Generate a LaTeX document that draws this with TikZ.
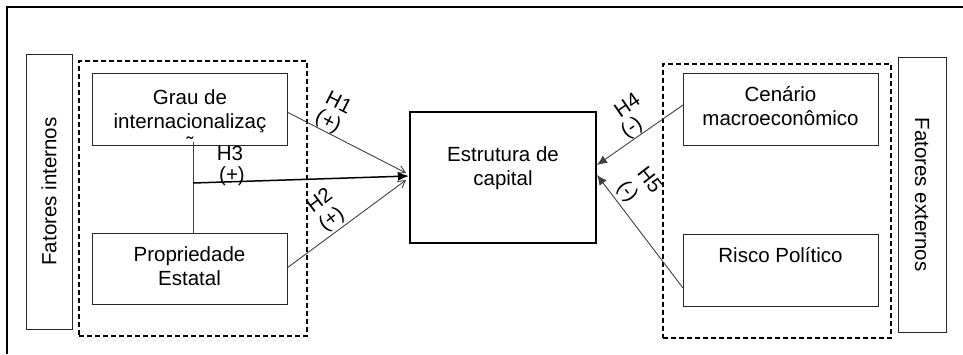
\documentclass[tikz,border=0pt]{standalone}
\usepackage{fontspec}
\setmainfont{Liberation Sans}
\usetikzlibrary{arrows.meta}
\tikzset{
  box/.style={draw=black!85, line width=0.9pt, minimum width=#1, inner sep=0pt},
  dbox/.style={draw=black, line width=1.3pt, dash pattern=on 5pt off 3pt},
  txt/.style={font=\fontsize{20.5}{23.5}\selectfont, align=center, inner sep=0pt},
  conn/.style={draw=black!75, line width=0.9pt},
  hlab/.style={font=\fontsize{20.5}{23.5}\selectfont, inner sep=0pt},
}
\begin{document}
\begin{tikzpicture}[x=1pt,y=-1pt]
\useasboundingbox (0,0) rectangle (963,354);
% outer border (only top and left visible)
\draw[line width=2.2pt] (7,354) -- (7,7) -- (963,7);

% left side
\node[box=46pt, minimum height=275pt] (fi) at (49,191.5) {};
\node[txt, rotate=90] (fit) at (fi.center) {Fatores internos};
\node[dbox, minimum width=228pt, minimum height=275pt] (ld) at (193,198.5) {};
\node[box=195pt, minimum height=72pt] (grau) at (189.5,109) {};
\node[txt] (graut) at (190,121) {Grau de\\internacionalizaç\\\char"02DC};
\node[box=195pt, minimum height=71pt] (prop) at (189.5,268.5) {};
\node[txt] (propt) at (189.5,266) {Propriedade\\Estatal};

% center
\node[draw, line width=1.8pt, minimum width=186pt, minimum height=131pt] (est) at (503,177.5) {};
\node[txt] (estt) at (503,168) {Estrutura de\\capital};

% right side
\node[dbox, minimum width=228pt, minimum height=274pt] (rd) at (777,201) {};
\node[box=195pt, minimum height=72pt] (cen) at (780.5,109) {};
\node[txt] (cent) at (780.5,106) {Cenário\\macroeconômico};
\node[box=195pt, minimum height=72pt] (ris) at (780.5,270) {};
\node[txt] (rist) at (780.5,255) {Risco Político};
\node[box=48pt, minimum height=275pt] (fe) at (922,194.5) {};
\node[txt, rotate=-90] (fet) at (fe.center) {Fatores externos};

% anchor coordinates
\coordinate (v1) at (193,142);
\coordinate (v2) at (193,233);
\coordinate (h3s) at (193,183);
\coordinate (h3e) at (409,176);
\coordinate (h1s) at (287,112);
\coordinate (h1e) at (406,173);
\coordinate (h2s) at (287,268);
\coordinate (h2e) at (406,180);
\coordinate (h4s) at (683,105);
\coordinate (h4e) at (597,165);
\coordinate (h5s) at (683,288);
\coordinate (h5e) at (597,175);

% connectors
\draw[conn] (v1) -- (v2);
\draw[line width=1.5pt, -{Latex[length=11pt,width=9pt]}] (h3s) -- (h3e);
\draw[conn, -{Straight Barb[length=7pt,width=8pt]}] (h1s) -- (h1e);
\draw[conn, -{Straight Barb[length=7pt,width=8pt]}] (h2s) -- (h2e);
\draw[conn, -{Latex[length=10pt,width=9pt]}] (h4s) -- (h4e);
\draw[conn, -{Latex[length=10pt,width=9pt]}] (h5s) -- (h5e);

% labels
\node[hlab, rotate=-27] (l1a) at (339,102) {H1};
\node[hlab, rotate=-27] (l1b) at (328,122) {(+)};
\node[hlab, rotate=37] (l2a) at (319,200) {H2};
\node[hlab, rotate=37] (l2b) at (332,220) {(+)};
\node[hlab] (l3a) at (230,153) {H3};
\node[hlab] (l3b) at (232,176) {(+)};
\node[hlab, rotate=35] (l4a) at (627,105) {H4};
\node[hlab, rotate=35] (l4b) at (632,128) {(-)};
\node[hlab, rotate=-52] (l5a) at (650,180) {H5};
\node[hlab, rotate=-52] (l5b) at (627,192) {(-)};
\end{tikzpicture}
\end{document}
